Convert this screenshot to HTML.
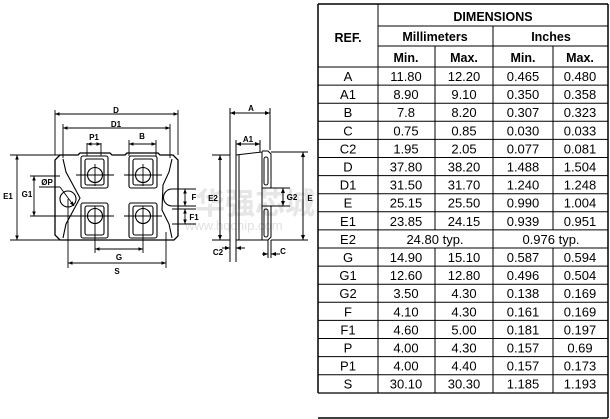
<!DOCTYPE html>
<html><head><meta charset="utf-8"><style>
html,body{margin:0;padding:0;background:#fff;}
body{width:610px;height:419px;position:relative;overflow:hidden;font-family:"Liberation Sans",Arial,sans-serif;}
svg{position:absolute;left:0;top:0;}
</style></head><body>
<svg width="610" height="419" viewBox="0 0 610 419" xmlns="http://www.w3.org/2000/svg" font-family="Liberation Sans, Arial, sans-serif">
<defs>
<marker id="a" viewBox="0 0 10 10" refX="10" refY="5" markerWidth="5" markerHeight="5" orient="auto-start-reverse"><path d="M0,1 L10,5 L0,9 z" fill="#000"/></marker>
</defs>
<!-- frame -->
<g stroke="#000" fill="none">
<line x1="318" y1="4" x2="608" y2="4" stroke-width="1.5"/>
<line x1="608" y1="4" x2="608" y2="418" stroke-width="1.5"/>
<line x1="318" y1="418" x2="608" y2="418" stroke-width="1.5"/>
<line x1="318" y1="4" x2="318" y2="393" stroke-width="1.5"/>
<line x1="318" y1="393" x2="608" y2="393" stroke-width="1.2"/>
<line x1="378" y1="4" x2="378" y2="393"/>
<line x1="378" y1="26" x2="608" y2="26"/>
<line x1="378" y1="46" x2="608" y2="46"/>
<line x1="318" y1="67" x2="608" y2="67"/>
<line x1="493" y1="26" x2="493" y2="393"/>
<line x1="435" y1="46" x2="435" y2="230"/>
<line x1="435" y1="248" x2="435" y2="393"/>
<line x1="553" y1="46" x2="553" y2="230"/>
<line x1="553" y1="248" x2="553" y2="393"/>
</g>
<g stroke="#000" stroke-width="1">
<line x1="318" y1="85.1" x2="608" y2="85.1"/><line x1="318" y1="103.2" x2="608" y2="103.2"/>
<line x1="318" y1="121.3" x2="608" y2="121.3"/><line x1="318" y1="139.4" x2="608" y2="139.4"/>
<line x1="318" y1="157.5" x2="608" y2="157.5"/><line x1="318" y1="175.6" x2="608" y2="175.6"/>
<line x1="318" y1="193.7" x2="608" y2="193.7"/><line x1="318" y1="211.8" x2="608" y2="211.8"/>
<line x1="318" y1="229.9" x2="608" y2="229.9"/><line x1="318" y1="248" x2="608" y2="248"/>
<line x1="318" y1="266.1" x2="608" y2="266.1"/><line x1="318" y1="284.2" x2="608" y2="284.2"/>
<line x1="318" y1="302.3" x2="608" y2="302.3"/><line x1="318" y1="320.4" x2="608" y2="320.4"/>
<line x1="318" y1="338.5" x2="608" y2="338.5"/><line x1="318" y1="356.6" x2="608" y2="356.6"/>
<line x1="318" y1="374.7" x2="608" y2="374.7"/>
</g>
<g font-size="12.5" font-weight="bold" text-anchor="middle">
<text x="493" y="21">DIMENSIONS</text>
<text x="348" y="42">REF.</text>
<text x="435" y="41">Millimeters</text>
<text x="551" y="41">Inches</text>
<text x="406" y="62">Min.</text><text x="464" y="62">Max.</text>
<text x="523" y="62">Min.</text><text x="580" y="62">Max.</text>
</g>
<g font-size="13" text-anchor="middle">
<g transform="translate(0,81)"><text x="348">A</text><text x="406">11.80</text><text x="464">12.20</text><text x="523">0.465</text><text x="580">0.480</text></g>
<g transform="translate(0,99.1)"><text x="348">A1</text><text x="406">8.90</text><text x="464">9.10</text><text x="523">0.350</text><text x="580">0.358</text></g>
<g transform="translate(0,117.2)"><text x="348">B</text><text x="406">7.8</text><text x="464">8.20</text><text x="523">0.307</text><text x="580">0.323</text></g>
<g transform="translate(0,135.3)"><text x="348">C</text><text x="406">0.75</text><text x="464">0.85</text><text x="523">0.030</text><text x="580">0.033</text></g>
<g transform="translate(0,153.4)"><text x="348">C2</text><text x="406">1.95</text><text x="464">2.05</text><text x="523">0.077</text><text x="580">0.081</text></g>
<g transform="translate(0,171.5)"><text x="348">D</text><text x="406">37.80</text><text x="464">38.20</text><text x="523">1.488</text><text x="580">1.504</text></g>
<g transform="translate(0,189.6)"><text x="348">D1</text><text x="406">31.50</text><text x="464">31.70</text><text x="523">1.240</text><text x="580">1.248</text></g>
<g transform="translate(0,207.7)"><text x="348">E</text><text x="406">25.15</text><text x="464">25.50</text><text x="523">0.990</text><text x="580">1.004</text></g>
<g transform="translate(0,225.8)"><text x="348">E1</text><text x="406">23.85</text><text x="464">24.15</text><text x="523">0.939</text><text x="580">0.951</text></g>
<g transform="translate(0,243.9)"><text x="348">E2</text><text x="435">24.80 typ.</text><text x="551">0.976 typ.</text></g>
<g transform="translate(0,262)"><text x="348">G</text><text x="406">14.90</text><text x="464">15.10</text><text x="523">0.587</text><text x="580">0.594</text></g>
<g transform="translate(0,280.1)"><text x="348">G1</text><text x="406">12.60</text><text x="464">12.80</text><text x="523">0.496</text><text x="580">0.504</text></g>
<g transform="translate(0,298.2)"><text x="348">G2</text><text x="406">3.50</text><text x="464">4.30</text><text x="523">0.138</text><text x="580">0.169</text></g>
<g transform="translate(0,316.3)"><text x="348">F</text><text x="406">4.10</text><text x="464">4.30</text><text x="523">0.161</text><text x="580">0.169</text></g>
<g transform="translate(0,334.4)"><text x="348">F1</text><text x="406">4.60</text><text x="464">5.00</text><text x="523">0.181</text><text x="580">0.197</text></g>
<g transform="translate(0,352.5)"><text x="348">P</text><text x="406">4.00</text><text x="464">4.30</text><text x="523">0.157</text><text x="580">0.69</text></g>
<g transform="translate(0,370.6)"><text x="348">P1</text><text x="406">4.00</text><text x="464">4.40</text><text x="523">0.157</text><text x="580">0.173</text></g>
<g transform="translate(0,388.7)"><text x="348">S</text><text x="406">30.10</text><text x="464">30.30</text><text x="523">1.185</text><text x="580">1.193</text></g>
</g>

<!-- watermark -->
<text x="195" y="214" font-size="30" font-weight="bold" fill="#e6e6e6" font-family="Liberation Sans, Noto Sans CJK SC, sans-serif">华强芯城</text>
<text x="185" y="230" font-size="13" fill="#e0e0e0">www.hqchip.com</text>

<!-- front view -->
<g stroke="#000" fill="none" stroke-width="1.1">
<path d="M60,155 L78,155 L80,153 L110,153 L112,155 L125,155 L127,153 L158,153 L160,155 L173,155 L178,160 L178,236 L174,240 L60,240 L55,235 L55,160 Z" stroke-width="1.3"/>
<path d="M63,159 L66,172 L80,198 L66,224 L63,238"/>
<path d="M172,159 L169,172 L163,185 L162,210 L169,224 L172,238"/>
<rect x="81" y="156" width="27" height="32" rx="2"/><rect x="85" y="159" width="19" height="26" rx="2"/>
<rect x="129" y="156" width="28" height="32" rx="2"/><rect x="133" y="159" width="20" height="26" rx="2"/>
<rect x="81" y="203" width="27" height="35" rx="2"/><rect x="85" y="206" width="19" height="29" rx="2"/>
<rect x="129" y="203" width="28" height="35" rx="2"/><rect x="133" y="206" width="20" height="29" rx="2"/>
<circle cx="95" cy="175" r="7.5"/><circle cx="143" cy="175" r="7.5"/>
<circle cx="95" cy="216" r="7.5"/><circle cx="143" cy="216" r="7.5"/>
<circle cx="68" cy="199" r="8"/>
<path d="M178,189 L172,189 A8,8 0 0 0 172,206 L178,206"/>
</g>
<g stroke="#000" fill="none" stroke-width="0.9">
<line x1="76" y1="175" x2="114" y2="175"/><line x1="124" y1="175" x2="162" y2="175"/>
<line x1="30" y1="176" x2="60" y2="176"/>
<line x1="95" y1="164" x2="95" y2="186"/><line x1="143" y1="164" x2="143" y2="186"/>
<line x1="30" y1="216" x2="114" y2="216"/><line x1="124" y1="216" x2="162" y2="216"/>
<line x1="95" y1="206" x2="95" y2="253"/><line x1="143" y1="206" x2="143" y2="253"/>
<line x1="55" y1="110" x2="55" y2="155"/><line x1="178" y1="110" x2="178" y2="155"/>
<line x1="63" y1="124" x2="63" y2="158"/><line x1="170" y1="124" x2="170" y2="158"/>
<line x1="55" y1="114" x2="178" y2="114" marker-start="url(#a)" marker-end="url(#a)"/>
<line x1="63" y1="128" x2="170" y2="128" marker-start="url(#a)" marker-end="url(#a)"/>
<line x1="87" y1="143" x2="87" y2="156"/><line x1="101" y1="143" x2="101" y2="156"/>
<line x1="87" y1="144" x2="101" y2="144" marker-start="url(#a)" marker-end="url(#a)"/>
<line x1="129" y1="140" x2="129" y2="156"/><line x1="156" y1="140" x2="156" y2="156"/>
<line x1="129" y1="144" x2="156" y2="144" marker-start="url(#a)" marker-end="url(#a)"/>
<line x1="10" y1="155" x2="60" y2="155"/><line x1="10" y1="240" x2="60" y2="240"/>
<line x1="17" y1="155" x2="17" y2="240" marker-start="url(#a)" marker-end="url(#a)"/>
<line x1="34" y1="176" x2="34" y2="216" marker-start="url(#a)" marker-end="url(#a)"/>
<line x1="39" y1="187" x2="60" y2="187"/><line x1="60" y1="187" x2="74" y2="206" marker-end="url(#a)"/>
<line x1="95" y1="249" x2="143" y2="249" marker-start="url(#a)" marker-end="url(#a)"/>
<line x1="68" y1="199" x2="68" y2="268"/><line x1="166" y1="232" x2="166" y2="268"/>
<line x1="68" y1="263" x2="166" y2="263" marker-start="url(#a)" marker-end="url(#a)"/>
<line x1="172" y1="189" x2="196" y2="189"/><line x1="172" y1="206" x2="196" y2="206"/>
<line x1="172" y1="209" x2="196" y2="209"/><line x1="172" y1="224" x2="196" y2="224"/>
<line x1="185" y1="189" x2="185" y2="206" marker-start="url(#a)" marker-end="url(#a)"/>
<line x1="185" y1="209" x2="185" y2="224" marker-start="url(#a)" marker-end="url(#a)"/>
</g>
<g font-size="8" font-weight="bold" text-anchor="middle">
<text x="116" y="113">D</text><text x="116" y="127">D1</text>
<text x="94" y="140">P1</text><text x="142" y="139">B</text>
<text x="8" y="199">E1</text><text x="27" y="197">G1</text><text x="47" y="185">ØP</text>
<text x="119" y="260">G</text><text x="117" y="274">S</text>
<text x="194" y="200">F</text><text x="194" y="220">F1</text>
</g>

<!-- side view -->
<g stroke="#000" fill="none" stroke-width="1">
<line x1="230" y1="108" x2="230" y2="262"/>
<line x1="236" y1="140" x2="236" y2="262"/>
<line x1="239" y1="155" x2="239" y2="240"/>
<path d="M236,155 L262,152 L262,240 L236,240"/>
<path d="M262,151 L268,151 L271,154 L271,188 L262,188"/>
<path d="M262,206 L271,206 L271,237 L268,240 L262,240"/>
<rect x="264" y="157" width="4" height="28" rx="2"/><rect x="264" y="209" width="4" height="28" rx="2"/>
<line x1="270" y1="108" x2="270" y2="150"/>
<line x1="260" y1="140" x2="260" y2="152"/>
<line x1="230" y1="113" x2="270" y2="113" marker-start="url(#a)" marker-end="url(#a)"/>
<line x1="236" y1="144" x2="260" y2="144" marker-start="url(#a)" marker-end="url(#a)"/>
<line x1="212" y1="155" x2="230" y2="155"/><line x1="212" y1="240" x2="230" y2="240"/>
<line x1="220" y1="155" x2="220" y2="240" marker-start="url(#a)" marker-end="url(#a)"/>
<line x1="271" y1="152" x2="308" y2="152"/><line x1="271" y1="240" x2="308" y2="240"/>
<line x1="303" y1="152" x2="303" y2="240" marker-start="url(#a)" marker-end="url(#a)"/>
<line x1="271" y1="188" x2="290" y2="188"/><line x1="271" y1="206" x2="290" y2="206"/>
<line x1="283" y1="188" x2="283" y2="206" marker-start="url(#a)" marker-end="url(#a)"/>
<line x1="222" y1="248" x2="230" y2="248" marker-end="url(#a)"/>
<line x1="245" y1="248" x2="236" y2="248" marker-end="url(#a)"/>
<line x1="268" y1="240" x2="268" y2="258"/><line x1="271" y1="240" x2="271" y2="258"/>
<line x1="262" y1="254" x2="268" y2="254" marker-end="url(#a)"/>
<line x1="280" y1="254" x2="271" y2="254" marker-end="url(#a)"/>
</g>
<g font-size="8" font-weight="bold" text-anchor="middle">
<text x="251" y="111">A</text><text x="248" y="142">A1</text>
<text x="213" y="201">E2</text><text x="292" y="200">G2</text>
<text x="310" y="201">E</text><text x="218" y="255">C2</text><text x="283" y="254">C</text>
</g>
</svg>
</body></html>
